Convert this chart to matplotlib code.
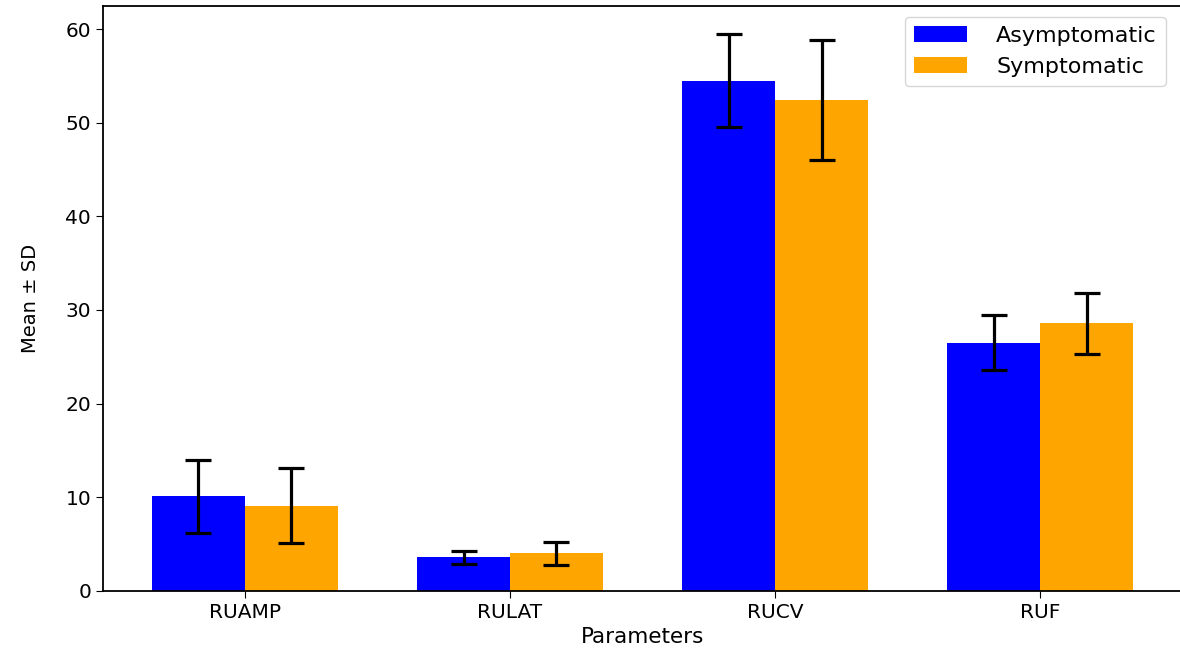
import numpy as np
import matplotlib
matplotlib.use('Agg')
import matplotlib.pyplot as plt

# values
parameters = ['RUAMP', 'RULAT', 'RUCV', 'RUF']
asym_mean = [10.1, 3.6, 54.5, 26.5]
asym_sd = [3.9, 0.7, 5.0, 2.95]
sym_mean = [9.1, 4.0, 52.4, 28.6]
sym_sd = [4.0, 1.2, 6.4, 3.25]

width = 0.35
x = np.arange(len(parameters))

fig = plt.figure(figsize=(11.8, 6.58), dpi=100)
# right spine sits just past the edge, as in the (cropped) reference
ax = fig.add_axes([0.0873, 0.102, 0.9145, 0.889])

err_kw = dict(elinewidth=2.3, capthick=2.3)
ax.bar(x - width/2, asym_mean, width, yerr=asym_sd, capsize=9.5,
       color='blue', label='Asymptomatic', error_kw=err_kw)
ax.bar(x + width/2, sym_mean, width, yerr=sym_sd, capsize=9.5,
       color='orange', label='Symptomatic', error_kw=err_kw)

ax.set_xticks(x)
ax.set_xticklabels(parameters)
ax.tick_params(labelsize=14.5, length=5)
ax.set_xlabel('Parameters', fontsize=15.5, labelpad=4)
ax.set_ylabel('Mean ± SD', fontsize=14, labelpad=18)
for sp in ['top', 'left', 'bottom']:
    ax.spines[sp].set_linewidth(1.3)

ax.legend(loc='upper right', fontsize=16, handlelength=2.4, handletextpad=1.3,
          bbox_to_anchor=(0.995, 1.0))

fig.savefig('out.png', dpi=100)
